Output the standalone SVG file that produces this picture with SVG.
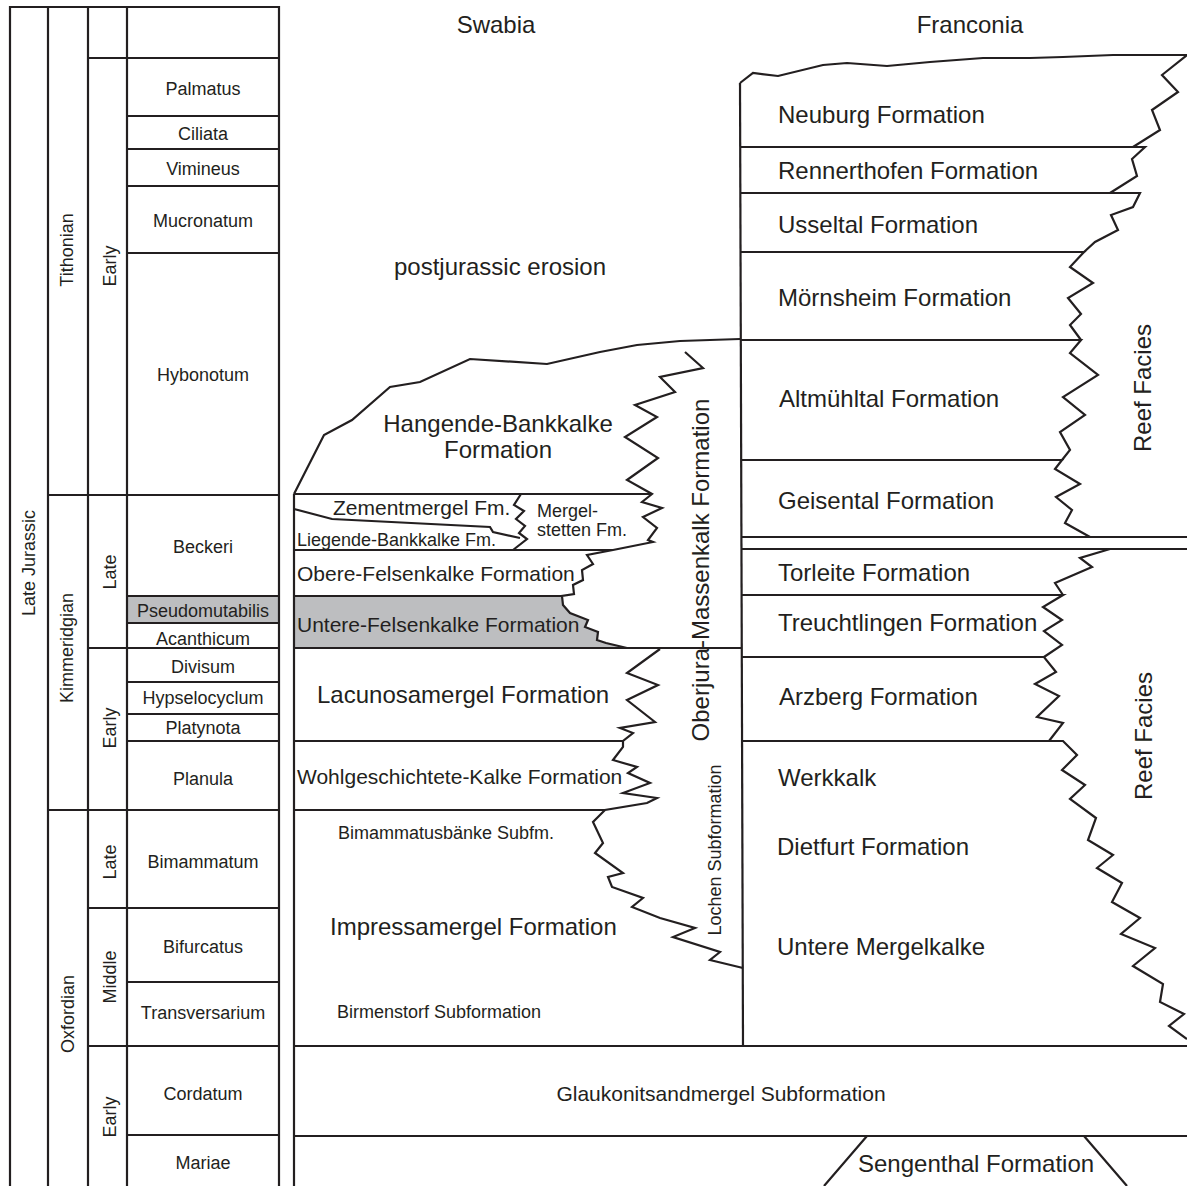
<svg xmlns="http://www.w3.org/2000/svg" width="1187" height="1186" viewBox="0 0 1187 1186">
<style>
.ln{fill:none;stroke:#231f20;stroke-width:2.2;stroke-linejoin:miter;stroke-miterlimit:10}
.t{font-family:"Liberation Sans",Arial,Helvetica,sans-serif;fill:#231f20}
.s18{font-size:18px}
.s21{font-size:21px}
.s24{font-size:24px}
.m{text-anchor:middle}
.grey{fill:#bdbec0;stroke:none}
</style>
<rect width="1187" height="1186" fill="#ffffff"/>

<!-- fills -->
<rect class="grey" x="127" y="596" width="152" height="27"/>
<polygon class="grey" points="294,596 562,596 563,605 570,613 588,620 585,627 598,632 597,640 606,643 627,648 294,648"/>

<g id="connectors">
  <!-- chronostratigraphic table -->
  <path class="ln" d="M10,1186V7H279V1186M48,7V1186M88,7V1186M127,7V1186"/>
  <path class="ln" d="M88,58H279M127,116H279M127,149H279M127,186H279M127,253H279M48,495H279M127,596H279M127,623H279M88,648H279M127,682H279M127,714H279M127,741H279M48,810H279M88,908H279M127,982H279M88,1046H279M127,1135H279"/>

  <!-- Swabia frame -->
  <path class="ln" d="M294,1186V494"/>
  <path class="ln" d="M294,494L324,435 352,420 390,387 420,382 470,359 547,364 600,352 637,345 680,341 740,339"/>
  <path class="ln" d="M740,83L743,1046"/>
  <!-- Massenkalk left boundary (upper) -->
  <path class="ln" d="M685,352L703,368 660,377 675,392 635,405 657,417 625,437 658,458 627,480 652,494 642,502 662,508 643,517 657,528 648,540 653,542 613,550 587,555 593,564 582,570 583,580 573,585 574,594 562,596 563,605 570,613 588,620 585,627 598,632 597,640 606,643 627,648"/>
  <!-- Massenkalk left boundary (lower) -->
  <path class="ln" d="M660,649L627,673 658,685 627,700 655,722 620,728 633,733 623,741 623,747 613,760 637,767 628,773 650,783 623,793 657,798 647,803 605,810 593,822 603,843 595,853 623,873 608,877 612,887 643,898 632,907 660,918 695,928 673,937 720,952 710,960 743,968"/>
  <!-- Swabia horizontals -->
  <path class="ln" d="M294,494H652M294,550H613M294,596H562M294,648H741M294,741H623M294,810H605M294,1046H1187M294,1136H1187"/>
  <path class="ln" d="M294,509L332,519 490,527 493,532 520,538"/>
  <path class="ln" d="M521,494L514,505 524,511 516,519 525,526 519,533 527,539 513,550"/>
  <path class="ln" d="M824,1186L867,1136M1084,1136L1127,1186"/>

  <!-- Franconia -->
  <path class="ln" d="M740,83L753,73 778,76 823,65 847,63 887,66 930,62 983,58 1030,58 1063,57 1113,55 1187,55"/>
  <path class="ln" d="M1187,55L1162,75 1178,92 1152,110 1160,130 1133,147"/>
  <path class="ln" d="M741,147H1145L1132,159 1137,176 1110,193"/>
  <path class="ln" d="M741,193H1140L1133,207 1111,215 1118,230 1095,242 1084,252"/>
  <path class="ln" d="M741,252H1084L1070,267 1093,283 1068,298 1081,314 1070,325 1081,340"/>
  <path class="ln" d="M741,340H1081L1070,353 1098,375 1063,397 1085,415 1060,432 1070,450 1062,460"/>
  <path class="ln" d="M741,460H1062L1055,469 1080,484 1056,497 1072,510 1065,523 1090,537"/>
  <path class="ln" d="M741,537H1187M741,549H1187"/>
  <path class="ln" d="M1110,549L1080,558 1092,567 1055,583 1063,595"/>
  <path class="ln" d="M741,595H1063L1043,607 1062,620 1044,631 1062,645 1044,657"/>
  <path class="ln" d="M741,657H1044L1056,672 1035,684 1059,696 1037,717 1063,723 1049,741"/>
  <path class="ln" d="M742,741H1063L1077,755 1062,770 1085,785 1070,799 1096,818 1088,840 1113,855 1097,868 1122,883 1112,902 1140,918 1121,934 1155,948 1133,966 1163,984 1160,1002 1184,1014 1169,1026 1187,1039"/>
</g>

<g id="chronostratigraphy">
  <g id="system"><text class="t s18 m" transform="translate(35,563) rotate(-90)">Late Jurassic</text></g>
  <g id="stage-tithonian"><text class="t s18 m" transform="translate(73,250) rotate(-90)">Tithonian</text></g>
  <g id="stage-kimmeridgian"><text class="t s18 m" transform="translate(73,648) rotate(-90)">Kimmeridgian</text></g>
  <g id="stage-oxfordian"><text class="t s18 m" transform="translate(74,1014) rotate(-90)">Oxfordian</text></g>
  <g id="sub-tith-early"><text class="t s18 m" transform="translate(116,266) rotate(-90)">Early</text></g>
  <g id="sub-kimm-late"><text class="t s18 m" transform="translate(116,572) rotate(-90)">Late</text></g>
  <g id="sub-kimm-early"><text class="t s18 m" transform="translate(116,728) rotate(-90)">Early</text></g>
  <g id="sub-oxf-late"><text class="t s18 m" transform="translate(116,862) rotate(-90)">Late</text></g>
  <g id="sub-oxf-middle"><text class="t s18 m" transform="translate(116,977) rotate(-90)">Middle</text></g>
  <g id="sub-oxf-early"><text class="t s18 m" transform="translate(116,1117) rotate(-90)">Early</text></g>

  <g id="zone-palmatus"><text class="t s18 m" x="203" y="95">Palmatus</text></g>
  <g id="zone-ciliata"><text class="t s18 m" x="203" y="140">Ciliata</text></g>
  <g id="zone-vimineus"><text class="t s18 m" x="203" y="175">Vimineus</text></g>
  <g id="zone-mucronatum"><text class="t s18 m" x="203" y="227">Mucronatum</text></g>
  <g id="zone-hybonotum"><text class="t s18 m" x="203" y="381">Hybonotum</text></g>
  <g id="zone-beckeri"><text class="t s18 m" x="203" y="553">Beckeri</text></g>
  <g id="zone-pseudomutabilis"><text class="t s18 m" x="203" y="617">Pseudomutabilis</text></g>
  <g id="zone-acanthicum"><text class="t s18 m" x="203" y="645">Acanthicum</text></g>
  <g id="zone-divisum"><text class="t s18 m" x="203" y="673">Divisum</text></g>
  <g id="zone-hypselocyclum"><text class="t s18 m" x="203" y="704">Hypselocyclum</text></g>
  <g id="zone-platynota"><text class="t s18 m" x="203" y="734">Platynota</text></g>
  <g id="zone-planula"><text class="t s18 m" x="203" y="785">Planula</text></g>
  <g id="zone-bimammatum"><text class="t s18 m" x="203" y="868">Bimammatum</text></g>
  <g id="zone-bifurcatus"><text class="t s18 m" x="203" y="953">Bifurcatus</text></g>
  <g id="zone-transversarium"><text class="t s18 m" x="203" y="1019">Transversarium</text></g>
  <g id="zone-cordatum"><text class="t s18 m" x="203" y="1100">Cordatum</text></g>
  <g id="zone-mariae"><text class="t s18 m" x="203" y="1169">Mariae</text></g>
</g>

<g id="swabia">
  <g id="hdr-swabia"><text class="t s24 m" x="496" y="33">Swabia</text></g>
  <g id="erosion"><text class="t s24 m" x="500" y="275">postjurassic erosion</text></g>
  <g id="hangende"><text class="t s24 m" x="498" y="432">Hangende-Bankkalke</text><text class="t s24 m" x="498" y="458">Formation</text></g>
  <g id="zementmergel"><text class="t s21" x="333" y="515">Zementmergel Fm.</text></g>
  <g id="liegende"><text class="t s18" x="297" y="546">Liegende-Bankkalke Fm.</text></g>
  <g id="mergelstetten"><text class="t s18" x="537" y="517">Mergel-</text><text class="t s18" x="537" y="536">stetten Fm.</text></g>
  <g id="obere"><text class="t s21" x="297" y="581">Obere-Felsenkalke Formation</text></g>
  <g id="untere"><text class="t s21" x="297" y="632">Untere-Felsenkalke Formation</text></g>
  <g id="lacunosamergel"><text class="t s24" x="317" y="703">Lacunosamergel Formation</text></g>
  <g id="wohlgeschichtete"><text class="t s21" x="297" y="784">Wohlgeschichtete-Kalke Formation</text></g>
  <g id="bimammatusbaenke"><text class="t s18" x="338" y="839">Bimammatusbänke Subfm.</text></g>
  <g id="impressamergel"><text class="t s24" x="330" y="935">Impressamergel Formation</text></g>
  <g id="birmenstorf"><text class="t s18" x="337" y="1018">Birmenstorf Subformation</text></g>
  <g id="massenkalk"><text class="t s24 m" transform="translate(709,570) rotate(-90)">Oberjura-Massenkalk Formation</text></g>
  <g id="lochen"><text class="t s18 m" transform="translate(721,850) rotate(-90)">Lochen Subformation</text></g>
  <g id="glaukonitsandmergel"><text class="t s21 m" x="721" y="1101">Glaukonitsandmergel Subformation</text></g>
  <g id="sengenthal"><text class="t s24" x="858" y="1172">Sengenthal Formation</text></g>
</g>

<g id="franconia">
  <g id="hdr-franconia"><text class="t s24 m" x="970" y="33">Franconia</text></g>
  <g id="neuburg"><text class="t s24" x="778" y="123">Neuburg Formation</text></g>
  <g id="rennerthofen"><text class="t s24" x="778" y="179">Rennerthofen Formation</text></g>
  <g id="usseltal"><text class="t s24" x="778" y="233">Usseltal Formation</text></g>
  <g id="moernsheim"><text class="t s24" x="778" y="306">Mörnsheim Formation</text></g>
  <g id="altmuehltal"><text class="t s24" x="779" y="407">Altmühltal Formation</text></g>
  <g id="geisental"><text class="t s24" x="778" y="509">Geisental Formation</text></g>
  <g id="torleite"><text class="t s24" x="778" y="581">Torleite Formation</text></g>
  <g id="treuchtlingen"><text class="t s24" x="778" y="631">Treuchtlingen Formation</text></g>
  <g id="arzberg"><text class="t s24" x="779" y="705">Arzberg Formation</text></g>
  <g id="werkkalk"><text class="t s24" x="778" y="786">Werkkalk</text></g>
  <g id="dietfurt"><text class="t s24" x="777" y="855">Dietfurt Formation</text></g>
  <g id="untere-mergelkalke"><text class="t s24" x="777" y="955">Untere Mergelkalke</text></g>
  <g id="reef-upper"><text class="t s24 m" transform="translate(1151,388) rotate(-90)">Reef Facies</text></g>
  <g id="reef-lower"><text class="t s24 m" transform="translate(1152,736) rotate(-90)">Reef Facies</text></g>
</g>
</svg>
